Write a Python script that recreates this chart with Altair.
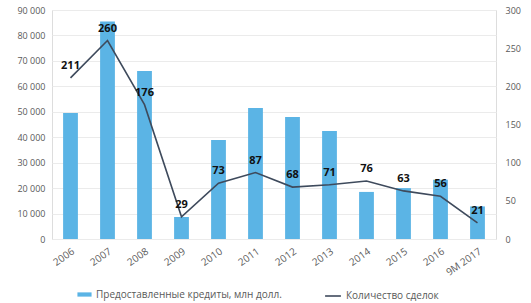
import altair as alt
import pandas as pd

years = ["2006", "2007", "2008", "2009", "2010", "2011", "2012", "2013", "2014", "2015", "2016", "9M 2017"]
credits = [49500, 85500, 66000, 8600, 38900, 51500, 47900, 42400, 18500, 20000, 23300, 12800]
deals = [211, 260, 176, 29, 73, 87, 68, 71, 76, 63, 56, 21]

df = pd.DataFrame({"year": years, "credits": credits, "deals": deals})

font = "Open Sans"
gray = "#595959"

x = alt.X("year:N", sort=years, title=None,
          scale=alt.Scale(paddingInner=0.6, paddingOuter=0.3),
          axis=alt.Axis(labelAngle=-35, labelFontSize=10, labelColor=gray, labelFont=font,
                        domain=False, ticks=False, labelPadding=7))

bars = alt.Chart(df).mark_bar(color="#5BB4E5").encode(
    x=x,
    y=alt.Y("credits:Q", title=None,
            scale=alt.Scale(domain=[0, 90000]),
            axis=alt.Axis(values=list(range(0, 90001, 10000)),
                          labelExpr="replace(format(datum.value, ','), ',', ' ')",
                          labelFontSize=9, labelColor=gray, labelFont=font,
                          domain=False, ticks=False, labelPadding=7,
                          grid=True, gridColor="#ebebeb")),
    color=alt.Color("s:N", scale=alt.Scale(domain=["Предоставленные кредиты, млн долл."], range=["#5BB4E5"]),
                    legend=alt.Legend(title=None, orient="none", legendX=25, legendY=277,
                                      symbolType="M-1,-0.3H1V0.3H-1Z", symbolSize=200,
                                      labelFontSize=10, labelColor=gray, labelFont=font,
                                      labelLimit=0, symbolStrokeWidth=0)),
).transform_calculate(s="'Предоставленные кредиты, млн долл.'")

y2 = alt.Y("deals:Q", title=None, scale=alt.Scale(domain=[0, 300]),
           axis=alt.Axis(orient="right", values=list(range(0, 301, 50)),
                         labelFontSize=9, labelColor=gray, labelFont=font,
                         domain=False, ticks=False, labelPadding=9, grid=False))

line = alt.Chart(df).mark_line(strokeWidth=1.6).encode(
    x=x,
    y=y2,
    stroke=alt.Stroke("s:N", scale=alt.Scale(domain=["Количество сделок"], range=["#3e4a5c"]),
                      legend=alt.Legend(title=None, orient="none", legendX=272, legendY=277,
                                        symbolType="stroke", symbolSize=250, symbolStrokeWidth=1.6,
                                        labelFontSize=10, labelColor=gray, labelFont=font,
                                        labelLimit=0)),
).transform_calculate(s="'Количество сделок'")

labels = alt.Chart(df).mark_text(dy=-12, fontWeight="bold", fontSize=11, color="#111111", font=font).encode(
    x=x,
    y=y2,
    text="deals:Q",
)

right = alt.layer(line, labels)

chart = alt.layer(bars, right).resolve_scale(y="independent", color="independent", stroke="independent").properties(
    width=444, height=229,
    padding={"left": 52, "top": 10, "right": 35, "bottom": 64},
    autosize=alt.AutoSizeParams(type="none"),
).configure_view(stroke=None).configure(background="white")

chart.save("out.html", embed_options={"renderer": "svg", "actions": False})
